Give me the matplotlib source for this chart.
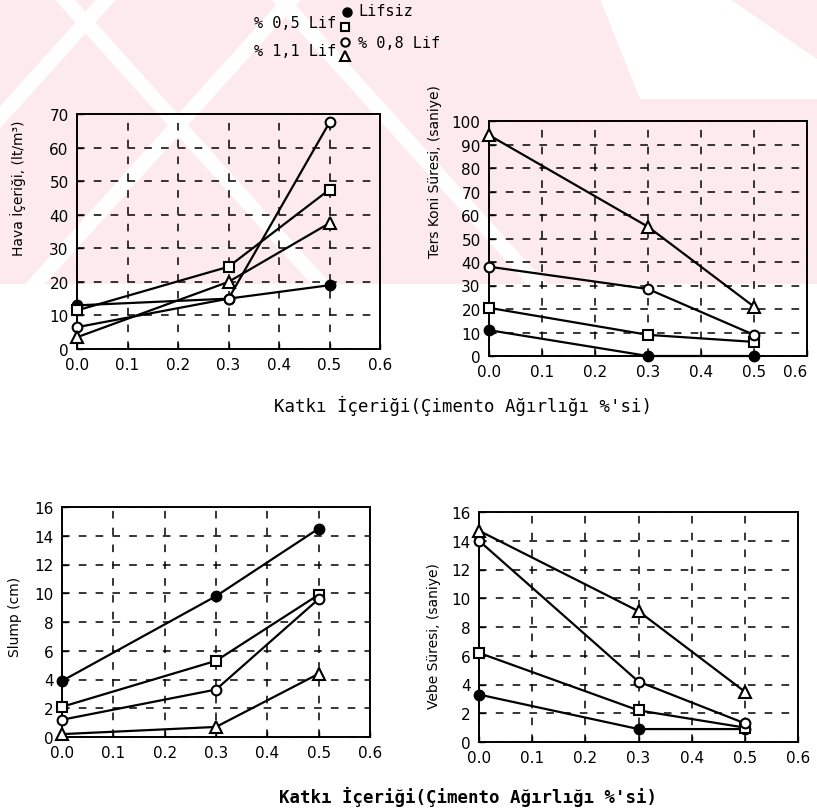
import matplotlib
matplotlib.use("Agg")
import matplotlib.pyplot as plt
from matplotlib.patches import Polygon, Rectangle

# fibre contents, % of cement weight
katki = [0.0, 0.3, 0.5]
seri_adlari = ["Lifsiz", "% 0,5 Lif", "% 0,8 Lif", "% 1,1 Lif"]

# air content, lt/m3
hava_lifsiz = [13, 15, 19]
hava_lif05 = [11.5, 24.5, 47.5]
hava_lif08 = [6.5, 15, 67.5]
hava_lif11 = [3.5, 20, 37.5]

# inverted cone time, seconds
koni_lifsiz = [11, 0, 0]
koni_lif05 = [20.5, 9, 6]
koni_lif08 = [38, 28.5, 9]
koni_lif11 = [94, 55, 21]

# slump, cm
slump_lifsiz = [3.9, 9.8, 14.5]
slump_lif05 = [2.1, 5.3, 9.9]
slump_lif08 = [1.2, 3.3, 9.6]
slump_lif11 = [0.2, 0.7, 4.4]

# vebe time, seconds
vebe_lifsiz = [3.3, 0.9, 0.9]
vebe_lif05 = [6.2, 2.2, 1.0]
vebe_lif08 = [14.0, 4.2, 1.3]
vebe_lif11 = [14.7, 9.1, 3.5]

x_ticks = [0.0, 0.1, 0.2, 0.3, 0.4, 0.5, 0.6]
x_etiket = "Katkı İçeriği(Çimento Ağırlığı %'si)"

W, H = 817, 812
fig = plt.figure(figsize=(W / 100, H / 100), dpi=100)

# background stamp, drawn in pixel coordinates
bg = fig.add_axes([0, 0, 1, 1], zorder=-10)
bg.set_xlim(0, W)
bg.set_ylim(H, 0)
bg.axis("off")
pembe = "#fdeaee"
bg.add_patch(Rectangle((0, 0), W, 285, color=pembe, lw=0))
for c, egim in [(40, -0.9), (131, 0.9), (225, -0.9), (347, 0.9)]:
    w = 10
    pts = [(c - w - 74 * egim, 0), (c + w - 74 * egim, 0),
           (c + w + 211 * egim, 285), (c - w + 211 * egim, 285)]
    bg.add_patch(Polygon(pts, closed=True, color="white", lw=0))
bg.add_patch(Polygon([(600, 0), (730, 0), (817, 60), (817, 100), (640, 100)],
                     closed=True, color="white", lw=0))

stiller = [
    dict(marker="o", mfc="black", mec="black", ms=7),
    dict(marker="s", mfc="white", mec="black", ms=7),
    dict(marker="o", mfc="white", mec="black", ms=7),
    dict(marker="^", mfc="white", mec="black", ms=8),
]


def panel(rect, seriler, ymax, ystep):
    ax = fig.add_axes(rect)
    ax.patch.set_alpha(0)
    for y, st in zip(seriler, stiller):
        ax.plot(katki, y, color="black", lw=1.6, mew=1.5, zorder=3, clip_on=False, **st)
    ax.set_xlim(0, 0.6)
    ax.set_ylim(0, ymax)
    ax.set_xticks(x_ticks)
    ax.set_xticklabels([f"{v:.1f}" for v in x_ticks])
    ax.set_yticks(range(0, ymax + 1, ystep))
    ax.grid(True, color="black", ls=(0, (5, 6)), lw=1.1)
    ax.tick_params(direction="in", length=4, width=1, labelsize=11, pad=6)
    for sp in ax.spines.values():
        sp.set_linewidth(1.4)
    return ax


def px(l, r, t, b):
    return [l / W, 1 - b / H, (r - l) / W, (b - t) / H]


panel(px(77, 380, 115, 350), [hava_lifsiz, hava_lif05, hava_lif08, hava_lif11], 70, 10)
ax2 = panel(px(489, 807, 122, 357), [koni_lifsiz, koni_lif05, koni_lif08, koni_lif11], 100, 10)
ax2.get_xticklabels()[-1].set_horizontalalignment("right")
panel(px(62, 370, 508, 738), [slump_lifsiz, slump_lif05, slump_lif08, slump_lif11], 16, 2)
panel(px(479, 798, 513, 743), [vebe_lifsiz, vebe_lif05, vebe_lif08, vebe_lif11], 16, 2)

# axis titles
fig.text(18 / W, 1 - 188 / H, "Hava İçeriği, (lt/m³)", rotation=90, ha="center", va="center", fontsize=10)
fig.text(435 / W, 1 - 172 / H, "Ters Koni Süresi, (saniye)", rotation=90, ha="center", va="center", fontsize=10)
fig.text(15 / W, 1 - 617 / H, "Slump (cm)", rotation=90, ha="center", va="center", fontsize=10)
fig.text(434 / W, 1 - 636 / H, "Vebe Süresi, (saniye)", rotation=90, ha="center", va="center", fontsize=10)

fig.text(463 / W, 1 - 406 / H, x_etiket, ha="center", va="center", fontsize=12.5, family="DejaVu Sans Mono")
fig.text(468 / W, 1 - 797 / H, x_etiket, ha="center", va="center", fontsize=12.5,
         family="DejaVu Sans Mono", weight="bold")

# legend
leg = fig.add_axes([0, 0, 1, 1], zorder=5)
leg.set_xlim(0, W)
leg.set_ylim(H, 0)
leg.axis("off")
konumlar = [(347, 13), (345, 28), (345, 43), (345, 57)]
for (mx, my), st in zip(konumlar, stiller):
    leg.plot([mx], [my], color="black", mew=1.5, **{**st, "ms": st["ms"] - 1})
lf = dict(fontsize=11, family="DejaVu Sans Mono", va="center")
leg.text(358, 12, seri_adlari[0], ha="left", **lf)
leg.text(336, 23, seri_adlari[1], ha="right", **lf)
leg.text(358, 43, seri_adlari[2], ha="left", **lf)
leg.text(336, 52, seri_adlari[3], ha="right", **lf)

fig.savefig("out.png", dpi=100)
